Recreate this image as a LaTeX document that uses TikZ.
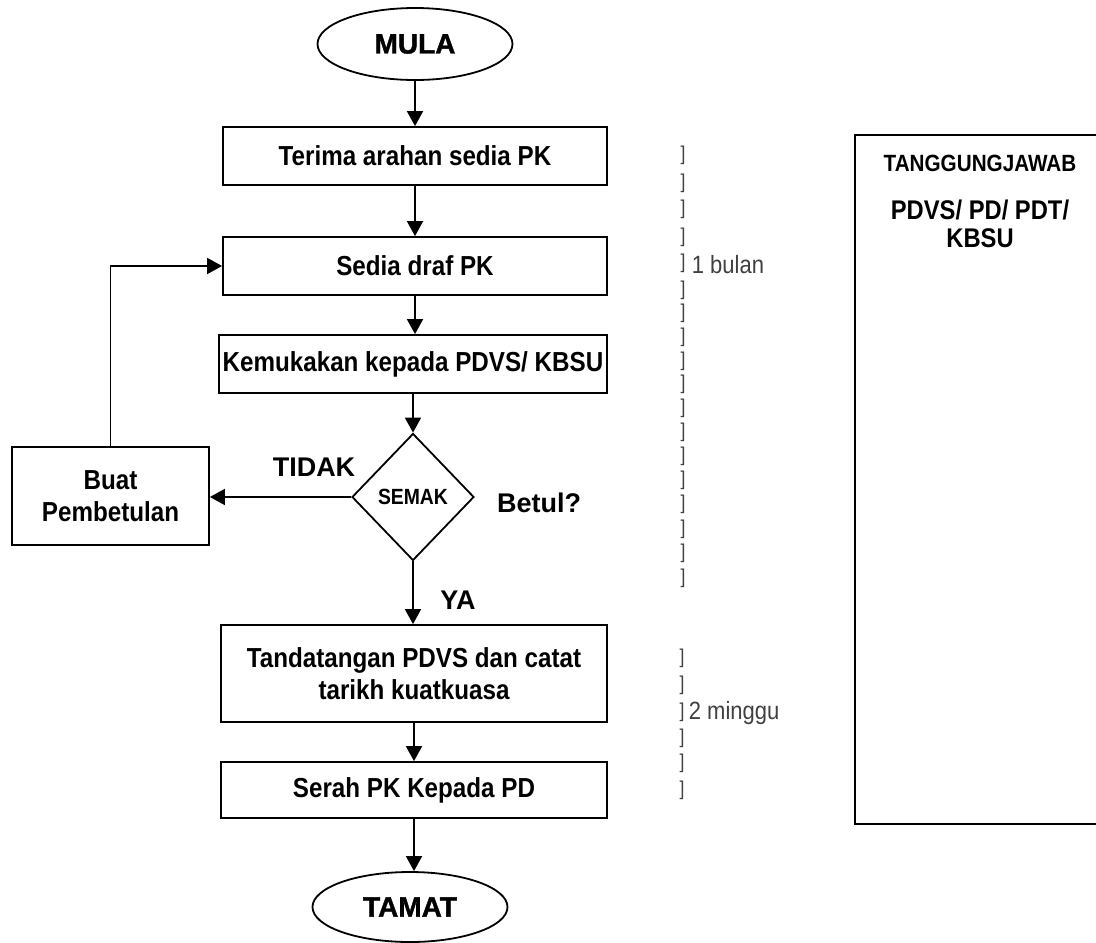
\documentclass[tikz,border=0pt]{standalone}
\usepackage{fontspec}
\setmainfont{Liberation Sans}
\newfontfamily\nar{Liberation Sans}[FakeStretch=0.88]
\newfontfamily\heavy{Liberation Sans Bold}[FakeBold=1.3]
\usetikzlibrary{shapes.geometric,arrows.meta}
\begin{document}
\begin{tikzpicture}[x=1pt,y=-1pt,
  line width=1.8pt,
  flow/.style={draw, line width=1.8pt, inner sep=2pt, align=center, font=\nar\bfseries\fontsize{27.5}{32}\selectfont},
  term/.style={draw, ellipse, line width=1.8pt, inner sep=0pt, font=\heavy\fontsize{28}{32}\selectfont},
  arr/.style={-{Triangle[length=15pt,width=16pt]}, line width=1.8pt},
  lbl/.style={font=\bfseries\fontsize{27}{32}\selectfont},
  brk/.style={font=\nar\fontsize{20}{22}\selectfont, text=black!75, inner sep=0pt},
  dur/.style={font=\nar\fontsize{25}{27}\selectfont, text=black!75, inner sep=0pt, anchor=west},
]
\useasboundingbox (0,0) rectangle (1096,943);
\fill[white] (0,0) rectangle (1096,943);

\node[term, minimum width=195, minimum height=72] (mula) at (415,44) {MULA};
\node[flow, minimum width=384, minimum height=58] (b1) at (415,156) {Terima arahan sedia PK};
\node[flow, minimum width=384, minimum height=58] (b2) at (415,266) {Sedia draf PK};
\node[flow, minimum width=388, minimum height=58] (b3) at (413,364) {Kemukakan kepada PDVS/ KBSU};
\node[draw, diamond, aspect=1, inner sep=0pt, minimum width=122, minimum height=127, line width=1.8pt,
      font=\nar\bfseries\fontsize{22}{24}\selectfont] (d) at (413,497) {SEMAK};
\node[flow, minimum width=197, minimum height=98] (buat) at (110.5,496) {Buat\\Pembetulan};
\node[flow, minimum width=386, minimum height=97] (b4) at (414,673.5) {Tandatangan PDVS dan catat\\tarikh kuatkuasa};
\node[flow, minimum width=386, minimum height=56] (b5) at (414,790) {Serah PK Kepada PD};
\node[term, minimum width=195, minimum height=70] (tamat) at (410,907) {TAMAT};

\draw[arr] (mula.south) -- (mula.south |- b1.north);
\draw[arr] (b1.south) -- (b1.south |- b2.north);
\draw[arr] (b2.south) -- (b2.south |- b3.north);
\draw[arr] (b3.south) -- (b3.south |- d.north);
\draw[arr] (d.south) -- (d.south |- b4.north);
\draw[arr] (d.west) -- (d.west -| buat.east);
\draw[arr] (buat.north) |- (b2.west);
\draw[arr] (b4.south) -- (b4.south |- b5.north);
\draw[arr] (b5.south) -- (b5.south |- tamat.north);

\node[lbl] (tidak) at (314,467) {TIDAK};
\node[lbl] (betul) at (539,503) {Betul?};
\node[lbl] (ya) at (458,600) {YA};

\foreach \y [count=\i] in {155,183,209,237,263,290,313,337,361,384,408,432,456,480,504,529,553,578}
  \node[brk] (k\i) at (683,\y) {]};
\node[dur] (bulan) at (691,265) {1 bulan};
\foreach \y [count=\i] in {658,685,712,738,763,790}
  \node[brk] (m\i) at (682,\y) {]};
\node[dur] (minggu) at (688,713) {2 minggu};

\draw[line width=1.8pt] (1100,135) -- (855,135) -- (855,824) -- (1100,824);
\node[font=\nar\bfseries\fontsize{23.5}{26}\selectfont] (tj) at (980,163) {TANGGUNGJAWAB};
\node[font=\nar\bfseries\fontsize{27}{28}\selectfont, align=center] (who) at (980,224) {PDVS/ PD/ PDT/\\KBSU};
\end{tikzpicture}
\end{document}
